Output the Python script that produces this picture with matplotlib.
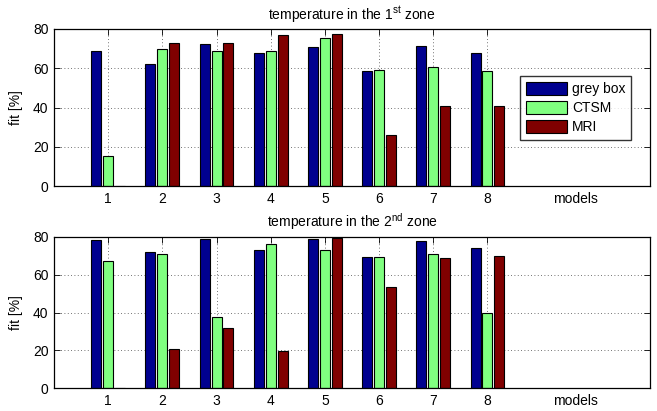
import matplotlib
matplotlib.use("Agg")
import matplotlib.pyplot as plt
import numpy as np

plt.rcParams['font.family'] = ['Liberation Sans', 'DejaVu Sans']
plt.rcParams['mathtext.fontset'] = 'custom'
plt.rcParams['mathtext.rm'] = 'Liberation Sans'
plt.rcParams['mathtext.it'] = 'Liberation Sans:italic'
plt.rcParams['mathtext.bf'] = 'Liberation Sans:bold'

models = [1, 2, 3, 4, 5, 6, 7, 8]
series_names = ["grey box", "CTSM", "MRI"]
colors = ["#00008F", "#80FF80", "#800000"]

zone1_grey = [69.0, 62.4, 72.2, 67.6, 70.8, 58.6, 71.5, 67.6]
zone1_ctsm = [15.3, 70.0, 68.6, 69.0, 75.3, 59.0, 60.7, 58.5]
zone1_mri = [0.0, 72.9, 72.9, 77.1, 77.3, 26.1, 40.7, 40.7]

zone2_grey = [78.4, 71.9, 78.8, 73.0, 78.8, 69.1, 77.9, 74.2]
zone2_ctsm = [67.2, 70.7, 37.8, 76.4, 73.0, 69.1, 70.9, 39.7]
zone2_mri = [0.0, 20.6, 31.8, 19.7, 79.5, 53.6, 68.6, 69.6]

titles = [r"temperature in the 1$^{\rm st}$ zone", r"temperature in the 2$^{\rm nd}$ zone"]
yticks = [0, 20, 40, 60, 80]
fs = 10

fig = plt.figure(figsize=(6.57, 4.11), dpi=100)
ax1 = fig.add_axes([54/657, 1-186.3/411, 596/657, 157.3/411])
ax2 = fig.add_axes([54/657, 1-388.3/411, 596/657, 151.6/411])

offsets = [-0.22, 0.0, 0.22]
width = 0.185
x = np.array(models, dtype=float)

for ax, data, title, show_legend in [
    (ax1, [zone1_grey, zone1_ctsm, zone1_mri], titles[0], True),
    (ax2, [zone2_grey, zone2_ctsm, zone2_mri], titles[1], False),
]:
    for vals, off, c, name in zip(data, offsets, colors, series_names):
        ax.bar(x + off, vals, width=width, color=c, edgecolor="black",
               linewidth=0.8, label=name, zorder=3)
    ax.set_xlim(0, 11)
    ax.set_ylim(0, 80)
    ax.set_xticks(models)
    ax.set_yticks(yticks)
    ax.tick_params(direction="in", length=4, width=0.6, top=True, right=True,
                   labelsize=fs, pad=4, colors="black")
    ax.grid(True, linestyle=(0, (1, 3)), color="#444444", linewidth=0.6, zorder=0)
    for s in ax.spines.values():
        s.set_linewidth(0.9)
        s.set_zorder(4)
    ax.set_title(title, fontsize=fs, pad=7)
    ax.set_ylabel("fit [%]", fontsize=fs, labelpad=7)
    ax.annotate("models", xy=(9.62, 0), xycoords=("data", "axes fraction"),
                xytext=(0, -4), textcoords="offset points",
                ha="center", va="top", fontsize=fs, annotation_clip=False)
    if show_legend:
        leg = ax.legend(loc="upper left", bbox_to_anchor=(466/596, 1-(76-29)/157.3),
                        fontsize=fs, frameon=True, fancybox=False,
                        edgecolor="black", handlelength=3.0, handleheight=1.08,
                        borderpad=0.4, labelspacing=0.36, handletextpad=0.36,
                        borderaxespad=0)
        leg.get_frame().set_linewidth(1.0)

fig.savefig("out.png", dpi=100)
